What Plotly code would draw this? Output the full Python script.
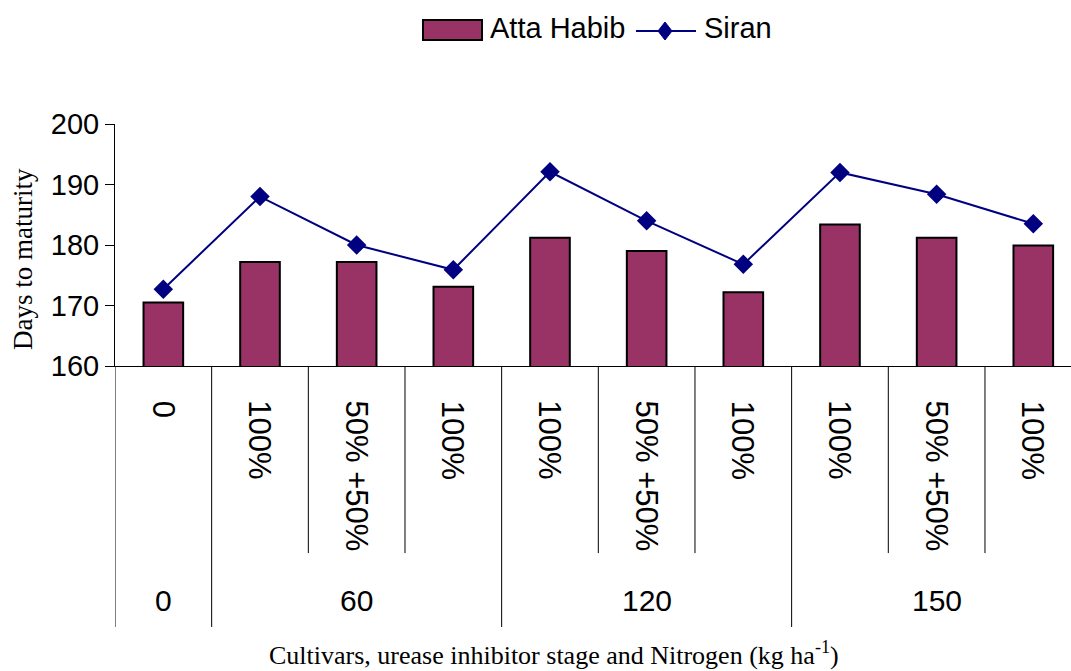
import plotly.graph_objects as go

# ---- data ----
stage_labels = ["0", "100%", "50% +50%", "100%", "100%", "50% +50%", "100%", "100%", "50% +50%", "100%"]
nitrogen_groups = ["0", "60", "120", "150"]
group_sizes = [1, 3, 3, 3]
atta_habib = [170.5, 177.2, 177.2, 173.1, 181.2, 179.0, 172.2, 183.4, 181.2, 179.9]
siran = [172.7, 188.0, 180.0, 175.9, 192.1, 184.0, 176.8, 192.0, 188.4, 183.5]

x_idx = list(range(len(stage_labels)))

SANS = "Liberation Sans, Arial, sans-serif"
SERIF = "Liberation Serif, Times New Roman, serif"

fig = go.Figure()
fig.add_trace(go.Bar(
    x=x_idx, y=atta_habib, name="Atta Habib", width=0.41,
    marker=dict(color="#993366", line=dict(color="black", width=2)),
    showlegend=False,
))
fig.add_trace(go.Scatter(
    x=x_idx, y=siran, name="Siran", mode="lines+markers",
    line=dict(color="#000080", width=2),
    marker=dict(symbol="diamond", size=15, color="#000080"),
    showlegend=False,
))

shapes = []
annotations = []

# inner (stage) dividers and labels
group_bounds = [-0.5]
for s in group_sizes:
    group_bounds.append(group_bounds[-1] + s)
for k in range(len(stage_labels) + 1):
    b = k - 0.5
    if b in group_bounds:
        continue
    shapes.append(dict(type="line", xref="x", yref="paper", x0=b, x1=b, y0=0, y1=-0.773,
                       line=dict(color="black", width=1)))
for i, lab in enumerate(stage_labels):
    annotations.append(dict(x=i, y=-0.135, xref="x", yref="paper", text=lab, textangle=90,
                            showarrow=False, xanchor="center", yanchor="top",
                            font=dict(family=SANS, size=31, color="black")))

# outer (nitrogen) dividers and labels
for b in group_bounds:
    shapes.append(dict(type="line", xref="x", yref="paper", x0=b, x1=b, y0=0, y1=-1.0785,
                       line=dict(color="black", width=1)))
for g, lab in enumerate(nitrogen_groups):
    c = (group_bounds[g] + group_bounds[g + 1]) / 2
    annotations.append(dict(x=c, y=-0.967, xref="x", yref="paper", text=lab,
                            showarrow=False, xanchor="center", yanchor="middle",
                            font=dict(family=SANS, size=30, color="black")))

# axis titles
annotations.append(dict(x=-0.0962, y=0.442, xref="paper", yref="paper", text="Days to maturity",
                        textangle=-90, showarrow=False, xanchor="center", yanchor="middle",
                        font=dict(family=SERIF, size=27, color="black")))
annotations.append(dict(x=0.459, y=-1.19, xref="paper", yref="paper",
                        text="Cultivars, urease inhibitor stage and Nitrogen (kg ha<sup>-1</sup>)",
                        showarrow=False, xanchor="center", yanchor="middle",
                        font=dict(family=SERIF, size=26, color="black")))

# custom legend
def px(xp):
    return (xp - 115) / 956.0

def py(yp):
    return (366 - yp) / 242.0

shapes.append(dict(type="rect", xref="paper", yref="paper", x0=px(423), x1=px(482), y0=py(40), y1=py(20),
                   fillcolor="#993366", line=dict(color="black", width=2)))
annotations.append(dict(x=px(488), y=py(28), xref="paper", yref="paper", text="Atta Habib",
                        showarrow=False, xanchor="left", yanchor="middle",
                        font=dict(family=SANS, size=29, color="black")))
shapes.append(dict(type="line", xref="paper", yref="paper", x0=px(636), x1=px(696), y0=py(31), y1=py(31),
                   line=dict(color="#000080", width=2)))
shapes.append(dict(type="path", xref="paper", yref="paper",
                   path=f"M{px(665)},{py(22)} L{px(672)},{py(31)} L{px(665)},{py(40)} L{px(658)},{py(31)} Z",
                   fillcolor="#000080", line=dict(color="#000080", width=1)))
annotations.append(dict(x=px(702), y=py(28), xref="paper", yref="paper", text="Siran",
                        showarrow=False, xanchor="left", yanchor="middle",
                        font=dict(family=SANS, size=29, color="black")))

fig.update_layout(
    width=1071, height=671,
    margin=dict(l=115, r=0, t=124, b=305),
    paper_bgcolor="white", plot_bgcolor="white",
    shapes=shapes, annotations=annotations,
    xaxis=dict(range=[-0.5, 9.39], showticklabels=False, ticks="", showgrid=False, zeroline=False,
               showline=True, linecolor="black", linewidth=1),
    yaxis=dict(range=[160, 200], tickvals=[160, 170, 180, 190, 200], showgrid=False, zeroline=False,
               showline=True, linecolor="black", linewidth=1, ticks="outside", ticklen=9,
               tickcolor="black", tickfont=dict(family=SANS, size=29, color="black")),
    bargap=0.59,
)

fig.write_html("out.html", config={"displayModeBar": False},
               post_script="document.body.style.margin='0';document.body.style.overflow='hidden';")
